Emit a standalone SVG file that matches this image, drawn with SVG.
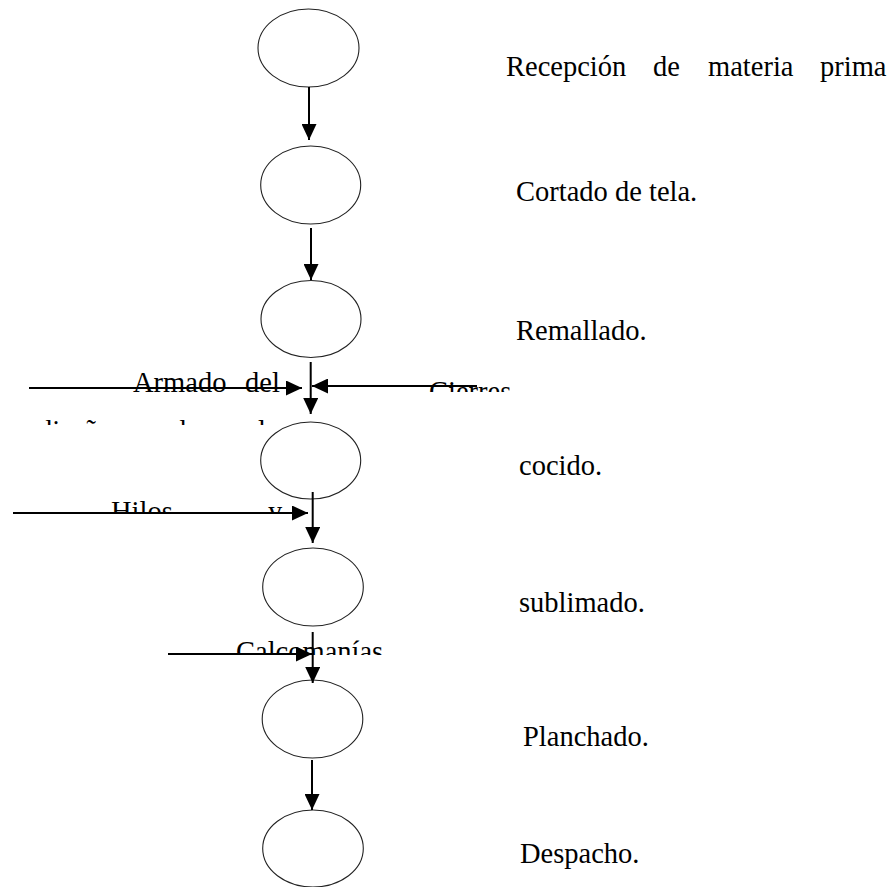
<svg xmlns="http://www.w3.org/2000/svg" width="894" height="887" viewBox="0 0 894 887">
<style>
.n{fill:#fff;stroke:#222;stroke-width:1.1}
.t{font-family:"Liberation Serif","Times New Roman",serif;font-size:28.5px;fill:#000}
.c line{stroke:#000;stroke-width:2}
</style>
<defs>
<marker id="ah" markerWidth="16" markerHeight="15" refX="16" refY="7.5" orient="auto" markerUnits="userSpaceOnUse">
<path d="M0,0 L16,7.5 L0,15 Z" fill="#000"/>
</marker>
<clipPath id="cA"><rect x="0" y="355" width="300" height="70"/></clipPath>
<clipPath id="cB"><rect x="400" y="370" width="120" height="22"/></clipPath>
<clipPath id="cC"><rect x="90" y="490" width="220" height="23.5"/></clipPath>
<clipPath id="cD"><rect x="220" y="630" width="180" height="25"/></clipPath>
</defs>
<rect width="894" height="887" fill="#fff"/>
<g id="n1"><ellipse class="n" cx="308.5" cy="48" rx="50.5" ry="39"/></g>
<g id="n2"><ellipse class="n" cx="310.7" cy="185" rx="50" ry="39"/></g>
<g id="n3"><ellipse class="n" cx="311" cy="319" rx="50" ry="38.5"/></g>
<g id="n4"><ellipse class="n" cx="310.7" cy="460.5" rx="50" ry="38.5"/></g>
<g id="n5"><ellipse class="n" cx="313" cy="587" rx="50.3" ry="39"/></g>
<g id="n6"><ellipse class="n" cx="312.5" cy="719" rx="50.3" ry="39"/></g>
<g id="n7"><ellipse class="n" cx="313" cy="848.5" rx="50.3" ry="38.5"/></g>
<g id="labels" class="t">
<text x="506" y="76">Recepción</text>
<text x="653" y="76">de</text>
<text x="708" y="76">materia</text>
<text x="820" y="76">prima</text>
<text x="516" y="201">Cortado de tela.</text>
<text x="516" y="340">Remallado.</text>
<text x="519" y="475">cocido.</text>
<text x="519" y="612">sublimado.</text>
<text x="523" y="746">Planchado.</text>
<text x="520" y="863">Despacho.</text>
</g>
<g id="inputs" class="t">
<g clip-path="url(#cA)">
<text x="133" y="392">Armado</text>
<text x="245" y="392">del</text>
<text x="38" y="440">diseño</text>
<text x="172" y="440">de</text>
<text x="258" y="440">la</text>
</g>
<g clip-path="url(#cB)"><text x="429" y="401">Cierres</text></g>
<g clip-path="url(#cC)"><text x="111" y="521">Hilos</text><text x="268" y="521">y</text></g>
<g clip-path="url(#cD)"><text x="236" y="661">Calcomanías</text></g>
</g>
<g id="connectors" class="c">
<line x1="309" y1="87" x2="309" y2="140" marker-end="url(#ah)"/>
<line x1="311" y1="228" x2="311" y2="280" marker-end="url(#ah)"/>
<line x1="310.7" y1="362" x2="310.7" y2="414" marker-end="url(#ah)"/>
<line x1="312.7" y1="492" x2="312.7" y2="543" marker-end="url(#ah)"/>
<line x1="312.7" y1="632" x2="312.7" y2="683" marker-end="url(#ah)"/>
<line x1="312" y1="760" x2="312" y2="810" marker-end="url(#ah)"/>
<line x1="29" y1="388" x2="302" y2="388" marker-end="url(#ah)"/>
<line x1="477" y1="386" x2="312" y2="386" marker-end="url(#ah)"/>
<line x1="13" y1="513" x2="308" y2="513" marker-end="url(#ah)"/>
<line x1="168" y1="654" x2="312" y2="654" marker-end="url(#ah)"/>
</g>
</svg>
